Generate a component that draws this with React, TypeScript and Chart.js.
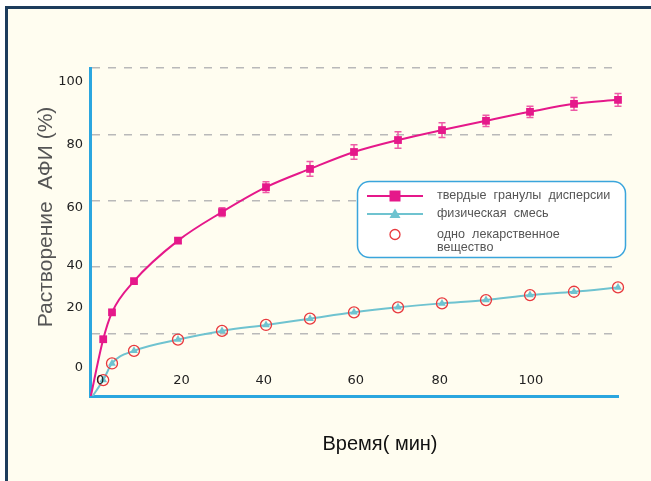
import React, { useEffect, useRef } from 'react';
import { Chart, registerables } from 'chart.js';

Chart.register(...registerables);

// ---- data ----
const times = [0, 3, 5, 10, 20, 30, 40, 50, 60, 70, 80, 90, 100, 110, 120];
const granules = [0, 18.3, 26.4, 35.8, 48.0, 56.6, 64.1, 69.6, 74.7, 78.3, 81.3, 84.1, 86.8, 89.2, 90.4];
const granulesErr = [0, 0, 0, 0, 0.8, 1.3, 1.6, 2.2, 2.2, 2.5, 2.2, 1.7, 1.7, 1.9, 1.9];
const mixture = [0, 6.0, 11.0, 14.8, 18.2, 20.8, 22.6, 24.5, 26.4, 27.9, 29.1, 30.1, 31.6, 32.6, 33.9];
const pureTimes = [3, 5, 10, 20, 30, 40, 50, 60, 70, 80, 90, 100, 110, 120];
const pureDrug = [6.0, 11.0, 14.8, 18.2, 20.8, 22.6, 24.5, 26.4, 27.9, 29.1, 30.1, 31.6, 32.6, 33.9];

const seriesNames = ['твердые  гранулы  дисперсии', 'физическая  смесь', 'одно  лекарственное\nвещество'];

// tick labels (text) and the axis values where they are printed
const xTickLabels = ['0', '20', '40', '60', '80', '100'];
const xTickAt = [2.3, 20.8, 39.5, 60.4, 79.5, 100.2];
const yTickLabels = ['100', '80', '60', '40', '20', '0'];
const yTickAt = [95.8, 76.8, 57.8, 40.6, 27.7, 9.6];
const gridValues = [20, 40, 60, 80, 100];

const yTitle = 'Растворение  АФИ (%)';
const xTitle = 'Время( мин)';

const PINK = '#e5188a';
const PINK_ERR = '#ee5aa6';
const CYAN = '#6fc3d0';
const RED = '#e8383d';
const BLUE = '#2ba6df';
const GRID = '#b9b9b9';

const overlay = {
  id: 'overlay',
  beforeDatasetsDraw(chart: any) {
    const { ctx } = chart;
    const xs = chart.scales.x;
    const ys = chart.scales.y;
    ctx.save();
    ctx.strokeStyle = PINK_ERR;
    ctx.lineWidth = 1.5;
    times.forEach((t, i) => {
      const e = granulesErr[i];
      if (!e) return;
      const px = xs.getPixelForValue(t);
      const top = ys.getPixelForValue(granules[i] + e);
      const bot = ys.getPixelForValue(granules[i] - e);
      ctx.beginPath();
      ctx.moveTo(px, top);
      ctx.lineTo(px, bot);
      ctx.moveTo(px - 3.5, top);
      ctx.lineTo(px + 3.5, top);
      ctx.moveTo(px - 3.5, bot);
      ctx.lineTo(px + 3.5, bot);
      ctx.stroke();
    });
    ctx.restore();
  },
  afterDraw(chart: any) {
    const { ctx, chartArea } = chart;
    const xs = chart.scales.x;
    const ys = chart.scales.y;
    ctx.save();
    // tick labels
    ctx.fillStyle = '#222';
    ctx.font = '13px "DejaVu Sans"';
    ctx.textBaseline = 'middle';
    ctx.textAlign = 'right';
    yTickLabels.forEach((lab, i) => {
      ctx.fillText(lab, chartArea.left - 7, ys.getPixelForValue(yTickAt[i]));
    });
    ctx.textAlign = 'center';
    xTickLabels.forEach((lab, i) => {
      ctx.fillText(lab, xs.getPixelForValue(xTickAt[i]), chartArea.bottom - 15);
    });
    // titles
    ctx.fillStyle = '#111';
    ctx.font = '20px "Liberation Sans"';
    ctx.fillText(xTitle, 380, 444);
    ctx.save();
    ctx.translate(46, 217);
    ctx.rotate(-Math.PI / 2);
    ctx.fillStyle = '#555';
    ctx.font = '21px "Liberation Sans"';
    ctx.fillText(yTitle, 0, 0);
    ctx.restore();

    // legend
    const lx = 357.5, ly = 181.5, lw = 268, lh = 76;
    ctx.beginPath();
    ctx.roundRect(lx, ly, lw, lh, 12);
    ctx.fillStyle = '#ffffff';
    ctx.fill();
    ctx.strokeStyle = '#3aa5dc';
    ctx.lineWidth = 1.5;
    ctx.stroke();

    const mx = 395;
    const rows = [196, 214, 234.5];
    // row 1
    ctx.strokeStyle = PINK;
    ctx.lineWidth = 2;
    ctx.beginPath(); ctx.moveTo(367, rows[0]); ctx.lineTo(423, rows[0]); ctx.stroke();
    ctx.fillStyle = PINK;
    ctx.fillRect(mx - 5.5, rows[0] - 5.5, 11, 11);
    // row 2
    ctx.strokeStyle = CYAN;
    ctx.beginPath(); ctx.moveTo(367, rows[1]); ctx.lineTo(423, rows[1]); ctx.stroke();
    ctx.fillStyle = CYAN;
    ctx.beginPath();
    ctx.moveTo(mx, rows[1] - 5.5); ctx.lineTo(mx + 5.5, rows[1] + 4); ctx.lineTo(mx - 5.5, rows[1] + 4); ctx.closePath();
    ctx.fill();
    // row 3
    ctx.strokeStyle = RED;
    ctx.lineWidth = 1.3;
    ctx.beginPath(); ctx.arc(mx, rows[2], 5, 0, Math.PI * 2); ctx.stroke();

    ctx.fillStyle = '#555';
    ctx.font = '12.6px "Liberation Sans"';
    ctx.textAlign = 'left';
    ctx.fillText(seriesNames[0], 437, rows[0]);
    ctx.fillText(seriesNames[1], 437, rows[1]);
    const parts = seriesNames[2].split('\n');
    ctx.fillText(parts[0], 437, rows[2]);
    ctx.fillText(parts[1], 437, rows[2] + 13.5);
    ctx.restore();
  },
};

export default function App() {
  const ref = useRef<HTMLCanvasElement | null>(null);
  useEffect(() => {
    if (!ref.current) return;
    const chart = new Chart(ref.current, {
      type: 'line',
      data: {
        datasets: [
          {
            label: seriesNames[0],
            data: times.map((t, i) => ({ x: t, y: granules[i] })),
            borderColor: PINK,
            backgroundColor: PINK,
            borderWidth: 2,
            pointStyle: 'rect',
            pointRadius: (c: any) => (c.dataIndex === 0 ? 0 : 5.5),
            pointBorderWidth: 0,
            cubicInterpolationMode: 'monotone',
            clip: { left: 0, top: 10, right: 10, bottom: 0 },
            order: 2,
          },
          {
            label: seriesNames[1],
            data: times.map((t, i) => ({ x: t, y: mixture[i] })),
            borderColor: CYAN,
            backgroundColor: CYAN,
            borderWidth: 2,
            pointStyle: 'triangle',
            pointRadius: (c: any) => (c.dataIndex === 0 ? 0 : 4.5),
            pointBorderWidth: 0,
            cubicInterpolationMode: 'monotone',
            clip: { left: 0, top: 10, right: 10, bottom: 0 },
            order: 1,
          },
          {
            label: seriesNames[2],
            data: pureTimes.map((t, i) => ({ x: t, y: pureDrug[i] })),
            showLine: false,
            borderColor: RED,
            backgroundColor: 'rgba(0,0,0,0)',
            pointStyle: 'circle',
            pointRadius: 5.5,
            pointBorderWidth: 1.3,
            clip: { left: 0, top: 10, right: 10, bottom: 0 },
            order: 0,
          },
        ],
      },
      options: {
        animation: false,
        responsive: true,
        maintainAspectRatio: false,
        layout: { padding: { left: 90, top: 68, right: 33, bottom: 85 } },
        plugins: { legend: { display: false }, tooltip: { enabled: false } },
        scales: {
          x: {
            type: 'linear',
            min: 0,
            max: 120,
            ticks: { display: false },
            grid: { display: false, drawTicks: false },
            border: { display: true, color: BLUE, width: 3 },
          },
          y: {
            type: 'linear',
            min: 1.2,
            max: 100,
            afterBuildTicks: (s: any) => {
              s.ticks = gridValues.map((v) => ({ value: v }));
            },
            ticks: { display: false },
            grid: { color: GRID, lineWidth: 1.5, drawTicks: false },
            border: { display: true, color: BLUE, width: 3, dash: [8, 8] },
          },
        },
      },
      plugins: [overlay],
    } as any);
    return () => chart.destroy();
  }, []);

  return (
    <div style={{ position: 'fixed', left: 0, top: 0, width: 651, height: 481, background: '#ffffff', overflow: 'hidden' }}>
      <div
        style={{
          position: 'absolute',
          left: 5,
          top: 6,
          width: 700,
          height: 520,
          borderLeft: '3px solid #1c3c5c',
          borderTop: '3px solid #1c3c5c',
          background: '#fffdf0',
        }}
      />
      <canvas ref={ref} style={{ position: 'absolute', left: 0, top: 0, width: 651, height: 481 }} width={651} height={481} />
    </div>
  );
}
